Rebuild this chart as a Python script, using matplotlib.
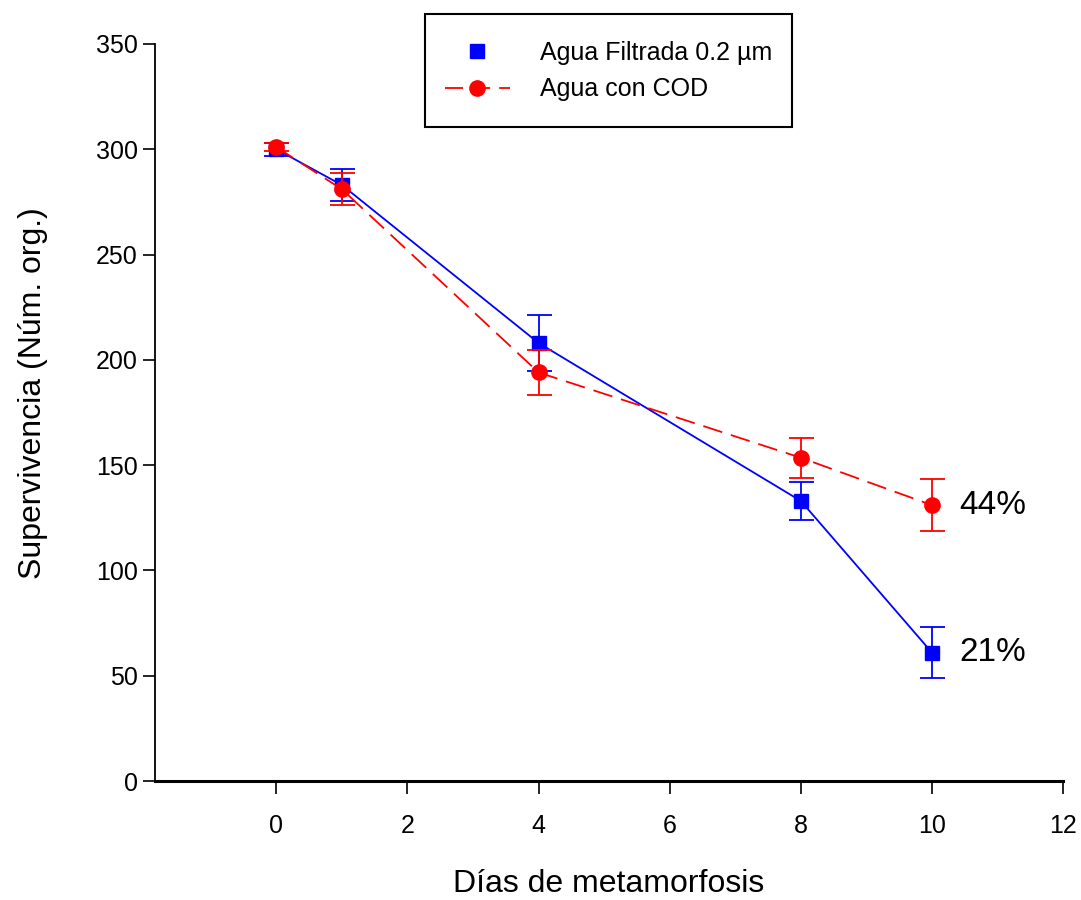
import matplotlib
matplotlib.use("Agg")
import matplotlib.pyplot as plt
from matplotlib.lines import Line2D
from matplotlib.patches import Rectangle

plt.rcParams["font.family"] = ["Liberation Sans", "DejaVu Sans"]

# Supervivencia por día de metamorfosis
dias = [0, 1, 4, 8, 10]
filtrada = [300, 283, 208, 133, 61]
filtrada_err = [3, 7.5, 13.5, 9, 12]
cod = [301, 281, 194, 153.5, 131]
cod_err = [2, 7.5, 10.5, 9.5, 12.5]
pct_labels = ["21%", "44%"]

fig = plt.figure(figsize=(10.81, 9.0), dpi=100)
ax = fig.add_axes([0.1434, 0.1322, 0.84, 0.819])

ax.errorbar(dias, filtrada, yerr=filtrada_err, color="#0000ff", lw=1.3,
            marker="s", ms=10, capsize=9, elinewidth=1.3, capthick=1.3, zorder=3)
ax.errorbar(dias, cod, yerr=cod_err, color="#ff0000", lw=1.3, dashes=(11, 5),
            marker="o", ms=11, capsize=9, elinewidth=1.3, capthick=1.3, zorder=4)

ax.text(10.42, cod[-1], pct_labels[1], fontsize=24, va="center", ha="left")
ax.text(10.42, filtrada[-1], pct_labels[0], fontsize=24, va="center", ha="left")

ax.set_xlim(-1.85, 12)
ax.set_ylim(0, 350)
ax.set_xticks([0, 2, 4, 6, 8, 10, 12])
ax.set_yticks(range(0, 351, 50))
for s in ("top", "right"):
    ax.spines[s].set_visible(False)
ax.spines["left"].set_linewidth(1.3)
ax.spines["bottom"].set_linewidth(2.2)
ax.tick_params(axis="both", direction="out", length=9, width=1.2, labelsize=18)
ax.tick_params(axis="x", pad=15)

ax.set_xlabel("Días de metamorfosis", fontsize=23, labelpad=22)
ax.set_ylabel("Supervivencia (Núm. org.)", fontsize=23)
ax.yaxis.set_label_coords(-0.118, 0.526)

# leyenda con marco dibujado aparte
fig.add_artist(Rectangle((425 / 1081, 1 - 127 / 900), 367 / 1081, 113 / 900,
                         transform=fig.transFigure, fill=False,
                         edgecolor="black", lw=1.5))
handles = [
    Line2D([], [], color="#0000ff", lw=0, marker="s", ms=10),
    Line2D([], [], color="#ff0000", lw=1.3, dashes=(10, 5), marker="o", ms=11),
]
ax.legend(handles, ["Agua Filtrada 0.2 µm", "Agua con COD"], fontsize=18,
          loc="center left", bbox_to_anchor=(432 / 1081, 1 - 71 / 900),
          bbox_transform=fig.transFigure, frameon=False, borderpad=0,
          handlelength=2.6, handletextpad=1.2, labelspacing=0.5)

fig.savefig("out.png", dpi=100)
